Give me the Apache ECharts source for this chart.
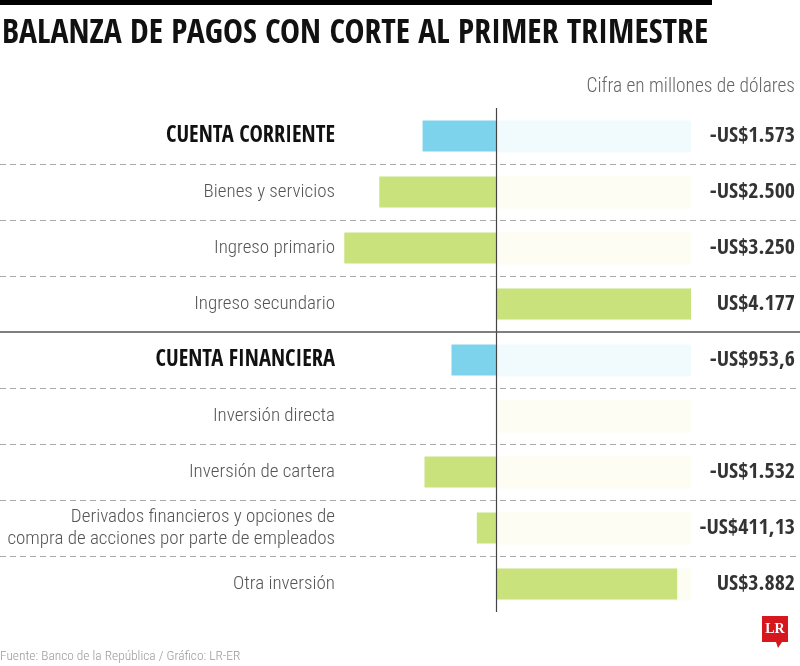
<!DOCTYPE html>
<html>
<head>
<meta charset="utf-8">
<script src="https://cdn.jsdelivr.net/npm/echarts@6/dist/echarts.min.js"></script>
<style>
  html, body { margin: 0; padding: 0; background: #fff; }
  #chart { width: 800px; height: 666px; }
</style>
</head>
<body>
<div id="chart"></div>
<script>
// datos de la balanza de pagos (millones de dólares)
const categorias = [
  'CUENTA CORRIENTE',
  'Bienes y servicios',
  'Ingreso primario',
  'Ingreso secundario',
  'CUENTA FINANCIERA',
  'Inversión directa',
  'Inversión de cartera',
  'Derivados financieros y opciones de\ncompra de acciones por parte de empleados',
  'Otra inversión'
]
const valores = [-1573, -2500, -3250, 4177, -953.6, null, -1532, -411.13, 3882]
const etiquetas = ['-US$1.573', '-US$2.500', '-US$3.250', 'US$4.177', '-US$953,6', '', '-US$1.532', '-US$411,13', 'US$3.882']
const esCuenta = [true, false, false, false, true, false, false, false, false]
const fondo = [4177, 4177, 4177, 4177, 4177, 4177, 4177, 4177, 4177]
// separadores entre filas (el 4 divide las dos cuentas)
const separadores = [1, 2, 3, 4, 5, 6, 7, 8]

const chart = echarts.init(document.getElementById('chart'))

const fuente = '"Open Sans Condensed", "Roboto Condensed", sans-serif'
const fuenteFina = '"Roboto Condensed", sans-serif'

chart.setOption({
  animation: false,
  textStyle: { fontFamily: fuente },
  title: [
    {
      text: 'BALANZA DE PAGOS CON CORTE AL PRIMER TRIMESTRE',
      left: 2,
      top: 17,
      padding: 0,
      textStyle: { fontFamily: fuente, fontWeight: 'bold', fontSize: 33.6, color: '#111' }
    },
    {
      text: 'Cifra en millones de dólares',
      right: 5,
      top: 78,
      padding: 0,
      textStyle: { fontFamily: fuenteFina, fontWeight: 300, fontSize: 19.4, color: '#666' }
    },
    {
      text: 'Fuente: Banco de la República / Gráfico: LR-ER',
      left: 0,
      top: 650,
      padding: 0,
      textStyle: { fontFamily: fuenteFina, fontWeight: 300, fontSize: 13.4, color: '#999' }
    }
  ],
  graphic: [
    { type: 'rect', shape: { x: 0, y: 0, width: 712, height: 5 }, style: { fill: '#000' } },
    {
      type: 'group',
      left: 762,
      top: 616,
      children: [
        { type: 'rect', shape: { x: 0, y: 0, width: 26, height: 26 }, style: { fill: '#d6181e' } },
        { type: 'polygon', shape: { points: [[14, 26], [20, 26], [16, 32]] }, style: { fill: '#d6181e' } },
        {
          type: 'text',
          style: {
            x: 13, y: 13, text: 'LR', align: 'center', verticalAlign: 'middle',
            fill: '#fff', font: 'bold 14px "Liberation Serif", serif'
          }
        }
      ]
    }
  ],
  grid: [
    { left: 336, right: 0, top: 108, bottom: 54, containLabel: false, outerBoundsMode: 'none' },
    { left: 0, right: 0, top: 108, bottom: 54, containLabel: false, outerBoundsMode: 'none' }
  ],
  xAxis: [
    { type: 'value', gridIndex: 0, min: -3427.3, max: 6511.8, show: false },
    { type: 'value', gridIndex: 1, min: 0, max: 1, show: false }
  ],
  yAxis: [
    {
      type: 'category',
      gridIndex: 0,
      inverse: true,
      data: categorias,
      axisLine: { show: false },
      axisTick: { show: false },
      splitLine: { show: false },
      axisLabel: {
        margin: 1,
        align: 'right',
        lineHeight: 22,
        formatter: (v, i) => esCuenta[i] ? '{b|' + v + '}' : '{n|' + v + '}',
        rich: {
          b: { fontFamily: fuente, fontWeight: 'bold', fontSize: 22.5, color: '#111' },
          n: { fontFamily: fuenteFina, fontWeight: 300, fontSize: 19, color: '#555', lineHeight: 22 }
        }
      }
    },
    { type: 'value', gridIndex: 1, min: 0, max: 9, inverse: true, show: false }
  ],
  series: [
    {
      type: 'bar',
      data: fondo,
      barWidth: 32,
      barGap: '-100%',
      silent: true,
      itemStyle: { color: (p) => esCuenta[p.dataIndex] ? '#f1fbfe' : '#fdfdf3' },
      label: {
        show: true,
        position: 'right',
        distance: 104,
        align: 'right',
        formatter: (p) => etiquetas[p.dataIndex],
        fontFamily: fuente,
        fontWeight: 'bold',
        fontSize: 22,
        color: '#333'
      }
    },
    {
      type: 'bar',
      data: valores,
      barWidth: 31,
      barGap: '-100%',
      itemStyle: { color: (p) => esCuenta[p.dataIndex] ? '#7dd3ec' : '#c9e27c' },
      markLine: {
        silent: true,
        symbol: 'none',
        label: { show: false },
        lineStyle: { color: '#444', width: 1.2, type: 'solid' },
        data: [{ xAxis: 0 }]
      }
    },
    {
      type: 'line',
      xAxisIndex: 1,
      yAxisIndex: 1,
      data: [],
      markLine: {
        silent: true,
        symbol: 'none',
        label: { show: false },
        data: separadores.map((v) => ({
          yAxis: v,
          lineStyle: v === 4
            ? { color: '#555', width: 1.5, type: 'solid' }
            : { color: '#aaa', width: 1, type: [6, 4] }
        }))
      }
    }
  ]
})
</script>
</body>
</html>
